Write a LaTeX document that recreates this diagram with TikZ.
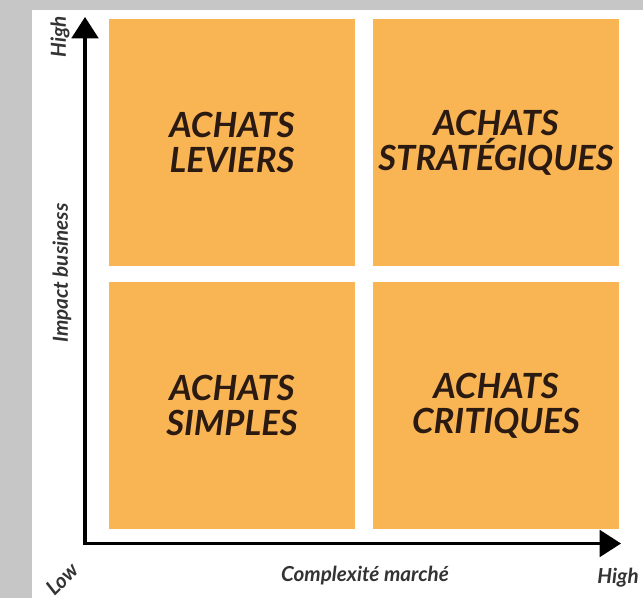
\documentclass[tikz,border=0pt]{standalone}
\usepackage{fontspec}
\setmainfont{Lato}
\usetikzlibrary{positioning,arrows.meta}
\definecolor{achatorange}{HTML}{F9B553}
\definecolor{achattext}{HTML}{2B1A12}
\definecolor{axistext}{HTML}{333333}
\definecolor{photogray}{HTML}{C6C6C6}

\begin{document}
\begin{tikzpicture}[x=0.75pt,y=-0.75pt,
			quadnode/.style={rectangle, fill=achatorange, minimum width=184.5pt, minimum height=185.25pt, inner sep=0pt, align=center, text=achattext, font=\fontsize{26}{26.25}\selectfont\bfseries\itshape},
			axislabel/.style={text=axistext, inner sep=0pt, font=\fontsize{15.5}{17}\selectfont\bfseries\itshape},
			axisline/.style={line width=2.3pt, black},
			]
			\useasboundingbox (0,0) rectangle (643,598);
			%Background
			\fill[photogray] (0,0) rectangle (643,598);
			\fill[white] (32,10) rectangle (643,598);
			
			%Nodes
			\node[quadnode]      (levier)      at 	(232,142.5)		{ACHATS\\LEVIERS};
			\node[quadnode]      (strat)      at 	(496,142.5)		{ACHATS\\STRATÉGIQUES};
			\node[quadnode]      (simple)      at 	(232,405.5)		{ACHATS\\SIMPLES};
			\node[quadnode]      (critique)      at 	(496,405.5)		{ACHATS\\CRITIQUES};
			
			\coordinate (origin) at (85,543.5);
			\coordinate (ytip) at (85,17);
			\coordinate (xtip) at (621,543.5);
			
			\node[axislabel, rotate=90]      (yhigh)      at 	(60,37)		{High};
			\node[axislabel, rotate=90]      (ylabel)      at 	(62,273)		{Impact business};
			\node[axislabel, rotate=45]      (low)      at 	(62,579)		{Low};
			\node[axislabel]      (xlabel)      at 	(365,576)		{Complexité marché};
			\node[axislabel]      (xhigh)      at 	(618,578)		{High};
			
			%Lines
			\draw[axisline, {Triangle[length=16pt,width=20pt]}-{Triangle[length=16pt,width=20pt]}] (ytip) -- (origin) -- (xtip);
		\end{tikzpicture}
\end{document}
